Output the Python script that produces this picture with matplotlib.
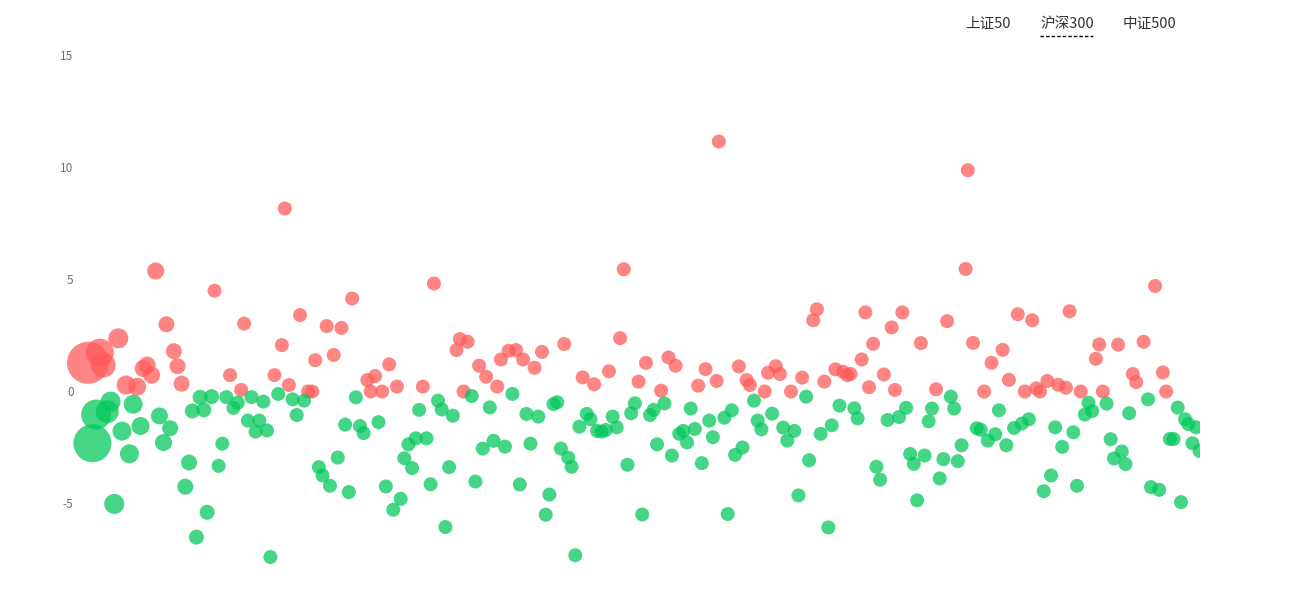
import matplotlib
matplotlib.use("Agg")
import matplotlib.pyplot as plt
from matplotlib.transforms import Bbox, TransformedBbox
from matplotlib.lines import Line2D
import numpy as np

plt.rcParams['font.family'] = ['Noto Sans CJK SC', 'DejaVu Sans']

# ---- data: stock rank (by market cap) and daily change (%) ----
up_rank = [0, 3.2, 4.1, 8.2, 10.3, 13.3, 14.9, 16.0, 17.2, 18.3, 21.2, 23.2, 24.2, 25.3,
           34.2, 38.4, 41.4, 42.2, 50.4, 52.4, 53.2, 54.3, 57.3, 59.5, 60.6, 61.4, 64.5,
           66.4, 68.5, 71.4, 75.5, 76.4, 77.6, 79.5, 81.4, 83.5, 90.5, 93.5, 99.6, 100.5,
           101.5, 102.6, 105.7, 107.6, 110.6, 111.6, 113.7, 115.7, 117.6, 120.7, 122.7,
           128.7, 133.7, 136.8, 140.8, 143.8, 144.8, 148.8, 150.8, 154.9, 156.9, 158.8,
           164.9, 166.9, 169.9, 170.5, 175.9, 178.0, 178.9, 182.9, 183.8, 185.9, 187.0,
           190.0, 193.0, 196.0, 197.0, 199.0, 202.0, 204.1, 205.2, 206.1, 209.1, 210.1,
           211.1, 212.2, 215.1, 217.2, 218.1, 220.1, 225.1, 229.2, 232.2, 237.2, 237.8,
           239.2, 242.2, 244.2, 247.2, 248.9, 251.3, 253.2, 255.2, 256.3, 257.3, 259.3,
           262.2, 264.3, 265.3, 268.3, 272.4, 273.3, 274.3, 278.4, 282.4, 283.3, 285.3,
           288.4, 290.5, 291.4]
up_change = [1.28, 1.73, 1.18, 2.37, 0.29, 0.21, 1.03, 1.18, 0.73, 5.38, 3.0, 1.80, 1.13, 0.35,
             4.5, 0.73, 0.07, 3.03, 0.73, 2.07, 8.17, 0.29, 3.41, 0.0, 0.0, 1.4, 2.92,
             1.63, 2.84, 4.15, 0.51, 0.0, 0.69, 0.0, 1.21, 0.22, 0.22, 4.82, 1.85, 2.34,
             0.0, 2.22, 1.15, 0.66, 0.22, 1.43, 1.82, 1.85, 1.43, 1.06, 1.77,
             2.12, 0.63, 0.32, 0.9, 2.38, 5.46, 0.44, 1.28, 0.04, 1.52, 1.15,
             0.26, 1.0, 0.47, 11.16, 1.12, 0.51, 0.29, 0.0, 0.84, 1.13, 0.78,
             0.0, 0.62, 3.18, 3.67, 0.44, 0.99, 0.88, 0.73, 0.78, 1.43, 3.53,
             0.19, 2.13, 0.76, 2.86, 0.07, 3.53, 2.16, 0.1, 3.14, 5.47, 9.88,
             2.17, 0.0, 1.28, 1.86, 0.52, 3.45, 0.0, 3.18, 0.14, 0.0, 0.47,
             0.3, 0.17, 3.58, 0.0, 1.46, 2.1, 0.0, 2.09, 0.78, 0.42, 2.22,
             4.71, 0.85, 0.0]

down_rank = [1.2, 2.2, 5.2, 6.1, 7.1, 9.2, 11.2, 12.2, 14.2, 19.3, 20.4, 22.2, 26.3, 27.3,
             28.2, 29.3, 30.3, 31.3, 32.2, 33.4, 35.3, 36.3, 37.4, 39.3, 40.5, 43.2, 44.2,
             45.3, 46.3, 47.4, 48.4, 49.3, 51.4, 55.3, 56.4, 58.4, 62.4, 63.4, 65.4, 67.5,
             69.5, 70.5, 72.4, 73.5, 74.5, 78.5, 80.5, 82.5, 84.5, 85.5, 86.6, 87.6, 88.6,
             89.5, 91.5, 92.6, 94.6, 95.6, 96.6, 97.6, 98.6, 103.7, 104.7, 106.7, 108.6,
             109.6, 112.7, 114.7, 116.7, 118.5, 119.6, 121.7, 123.7, 124.7, 125.8, 126.8,
             127.8, 129.8, 130.7, 131.7, 132.8, 134.8, 135.8, 137.6, 138.8, 139.9, 141.8,
             142.9, 145.8, 146.8, 147.8, 149.8, 151.9, 152.9, 153.8, 155.8, 157.8, 159.8,
             160.9, 161.9, 162.9, 164.0, 165.9, 167.9, 168.9, 172.0, 172.9, 174.0, 174.9,
             176.9, 180.0, 181.0, 182.0, 184.9, 187.9, 189.0, 190.9, 192.0, 194.1, 194.9,
             198.0, 200.1, 201.0, 203.1, 207.1, 208.0, 213.1, 214.1, 216.1, 219.2, 221.1,
             222.2, 223.2, 224.1, 226.1, 227.2, 228.1, 230.2, 231.2, 233.2, 234.1, 235.1,
             236.1, 240.2, 241.3, 243.2, 245.2, 246.2, 248.2, 250.3, 252.4, 254.3, 258.3,
             260.3, 261.4, 263.3, 266.3, 267.3, 269.4, 270.4, 271.4, 275.3, 276.4, 277.3,
             279.4, 280.4, 281.4, 286.5, 287.3, 289.5, 292.4, 293.4, 294.5, 295.4, 296.5,
             297.4, 298.5, 299.5, 300.4]
down_change = [-2.31, -1.03, -0.9, -0.45, -5.02, -1.77, -2.78, -0.57, -1.54, -1.09, -2.28, -1.64,
               -4.25, -3.17, -0.87, -6.5, -0.26, -0.82, -5.39, -0.23, -3.32, -2.33, -0.25,
               -0.73, -0.5, -1.3, -0.25, -1.79, -1.3, -0.45, -1.74, -7.39, -0.11, -0.35,
               -1.05, -0.41, -3.38, -3.75, -4.21, -2.95, -1.48, -4.49, -0.26, -1.54, -1.86,
               -1.37, -4.24, -5.28, -4.79, -2.98, -2.36, -3.42, -2.09, -0.82, -2.09, -4.14,
               -0.41, -0.8, -6.05, -3.38, -1.08, -0.2, -4.02, -2.55, -0.71, -2.2, -2.46,
               -0.11, -4.15, -1.0, -2.33, -1.12, -5.5, -4.6, -0.56, -0.48, -2.55, -2.95,
               -3.36, -7.31, -1.57, -1.0, -1.24, -1.76, -1.79, -1.72, -1.12, -1.6, -3.27,
               -0.97, -0.53, -5.49, -1.05, -0.82, -2.36, -0.53, -2.86, -1.89, -1.76, -2.27,
               -0.76, -1.67, -3.2, -1.3, -2.04, -1.17, -5.47, -0.84, -2.83, -2.5, -0.41,
               -1.3, -1.69, -0.99, -1.61, -2.19, -1.76, -4.64, -0.23, -3.07, -1.89, -6.07,
               -1.51, -0.63, -0.75, -1.2, -3.36, -3.94, -1.27, -1.14, -0.73, -2.79, -3.23,
               -4.86, -2.86, -1.33, -0.76, -3.88, -3.02, -0.23, -0.76, -3.11, -2.4, -1.64,
               -1.71, -2.19, -1.91, -0.84, -2.4, -1.63, -1.43, -1.24, -4.45, -3.75, -1.6,
               -2.47, -1.82, -4.21, -1.03, -0.5, -0.87, -0.54, -2.13, -2.99, -2.68, -3.24,
               -0.97, -0.35, -4.27, -4.39, -2.12, -2.12, -0.72, -4.94, -1.24, -1.45, -2.31,
               -1.6, -2.65]

# bubble diameter (px) for the largest-cap ranks; all others use the base size
cap_rank_size = {0: 42, 1: 38, 2: 30, 3: 28, 4: 25, 5: 23, 6: 20, 7: 20, 8: 20, 9: 19,
                 10: 19, 11: 19, 12: 19, 13: 18, 14: 18, 15: 17, 16: 17, 17: 17, 18: 17,
                 19: 17, 20: 17, 21: 16, 22: 16, 23: 16, 24: 16, 25: 16, 26: 16, 27: 16,
                 28: 15, 29: 15, 30: 15, 31: 15, 32: 15, 33: 15}
base_size = 14

y_ticks = [-5, 0, 5, 10, 15]
legend_items = ["上证50", "沪深300", "中证500"]

W, H = 1305, 595
fig = plt.figure(figsize=(W / 100, H / 100), dpi=100)
ax_left, ax_right = 82, 1200
y0_px, px_per_unit = 391.5, 22.4
top_px = y0_px - 15 * px_per_unit
ax = fig.add_axes([ax_left / W, 0, (ax_right - ax_left) / W, (H - top_px) / H])

x_px0, x_px_per = 88, 3.7
ax.set_xlim((ax_left - x_px0) / x_px_per, (ax_right - x_px0) / x_px_per)
ax.set_ylim(-(H - y0_px) / px_per_unit, 15)


def sizes(ranks):
    d = np.array([cap_rank_size.get(int(round(r)), base_size) for r in ranks], float)
    return (d * 0.72) ** 2


clip = TransformedBbox(Bbox.from_extents(0, 0, ax_right / W, 1), fig.transFigure)
sc1 = ax.scatter(up_rank, up_change, s=sizes(up_rank), c='#ff5a5a', alpha=0.74,
                 linewidths=0, zorder=3)
sc2 = ax.scatter(down_rank, down_change, s=sizes(down_rank), c='#03c85b', alpha=0.74,
                 linewidths=0, zorder=3)
for sc in (sc1, sc2):
    sc.set_clip_on(True)
    sc.set_clip_box(clip)

for s in ax.spines.values():
    s.set_visible(False)
ax.set_xticks([])
ax.set_yticks(y_ticks)
ax.set_yticklabels([str(t) for t in y_ticks])
ax.tick_params(axis='y', length=0, pad=6, labelsize=8.5, labelcolor='#6e7079')
ax.patch.set_alpha(0)

# legend (top right)
leg_x = [965, 1040, 1123]
for i, (lx, txt) in enumerate(zip(leg_x, legend_items)):
    fig.text(lx / W, 1 - 24 / H, txt, ha='left', va='center', fontsize=10.5, color='#333333')
fig.add_artist(Line2D([1040 / W, 1093 / W], [1 - 35.5 / H, 1 - 35.5 / H], color='black',
                      lw=1, linestyle=(0, (2.5, 1.5)), transform=fig.transFigure))

fig.savefig("out.png", dpi=100, facecolor='white')
